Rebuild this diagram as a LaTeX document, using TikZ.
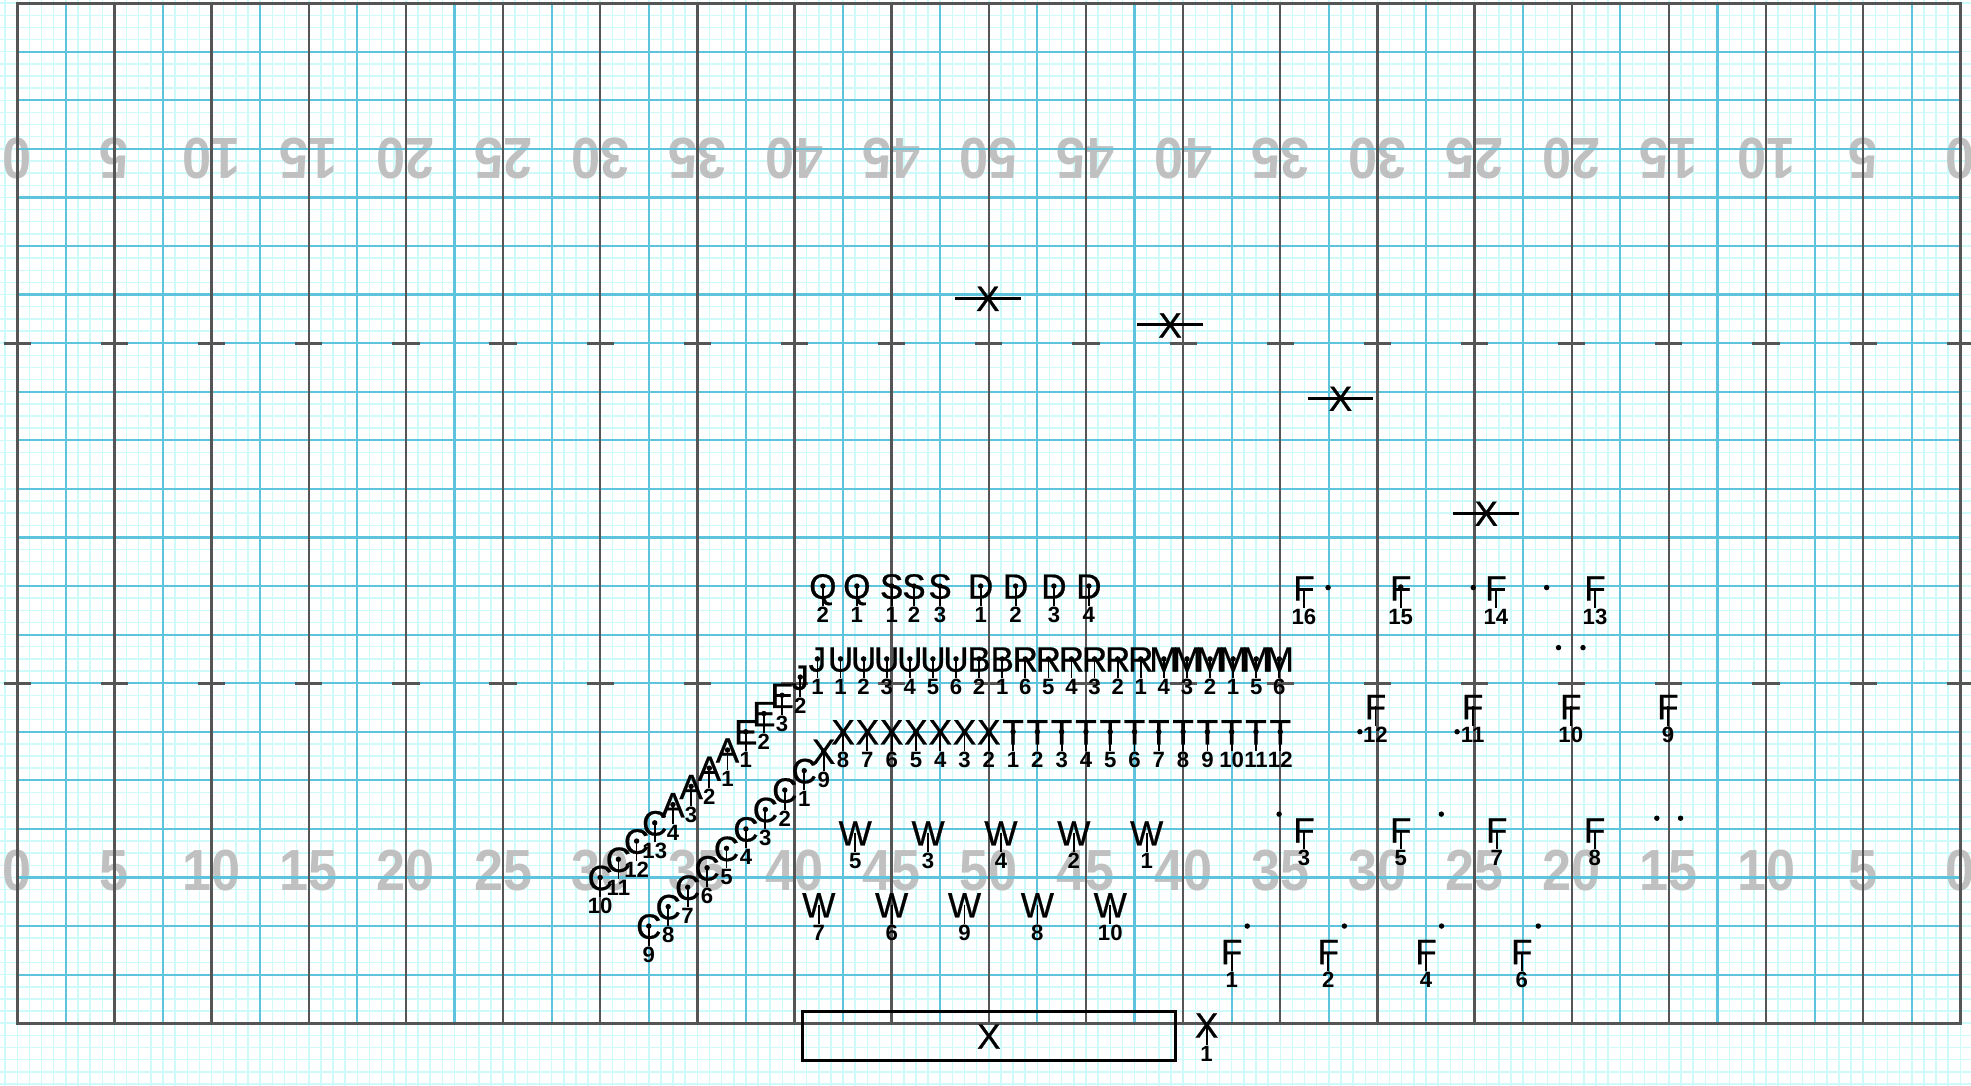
\documentclass[tikz,border=0pt]{standalone}
\usepackage{fontspec}
\setmainfont{Liberation Sans}
\newfontfamily\drillfont{Liberation Sans}[FakeBold=0.6]
\usepackage{tikz}
\usetikzlibrary{calc}
\definecolor{fieldfine}{HTML}{CFFAFA}
\definecolor{fieldblue}{HTML}{5EC3DC}
\definecolor{fielddark}{HTML}{555555}
\definecolor{yardgray}{HTML}{C0C0C0}
\tikzset{
  finegrid/.style={draw=fieldfine, line width=0.15mm},
  majorgrid/.style={draw=fieldblue, line width=0.22mm},
  yardline/.style={draw=fielddark, line width=0.24mm},
  hashmark/.style={draw=fielddark, line width=0.3mm},
  fieldedge/.style={draw=fielddark, line width=0.3mm},
  yardnum/.style={
    font=\fontsize{16.5}{16.5}\selectfont\bfseries, text=yardgray,
    inner sep=0pt, text height=11.8pt, text depth=0pt, xscale=0.9
  },
  glyph/.style={
    font=\drillfont\fontsize{10}{10}\selectfont, inner sep=0pt,
    text height=7.2pt, text depth=0pt
  },
  numlbl/.style={
    font=\fontsize{6.3}{6.3}\selectfont\bfseries, inner sep=0pt,
    text height=4.5pt, text depth=0pt
  },
  stem/.style={line width=0.5pt},
  xbar/.style={line width=0.85pt},
  podium/.style={
    draw, line width=0.3mm, minimum width=37.3mm, minimum height=4.9mm,
    inner sep=0pt, font=\drillfont\fontsize{10}{10}\selectfont,
    text height=7.2pt, text depth=0pt
  },
}
% performer: name, x, y, letter, number
\newcommand{\drillpt}[5]{%
  \coordinate (#1) at ({#2},{#3});
  \node[glyph] (#1-g) at (#1) {#4};
  \node[numlbl] (#1-n) at ($(#1)+(0,-1.45)$) {#5};
  \draw[stem] (#1) -- (#1-n.north);
  \fill (#1) circle (0.14);
}
% same without the spot
\newcommand{\drillsym}[5]{%
  \coordinate (#1) at ({#2},{#3});
  \node[glyph] (#1-g) at (#1) {#4};
  \node[numlbl] (#1-n) at ($(#1)+(0,-1.45)$) {#5};
  \draw[stem] (#1) -- (#1-n.north);
}

\begin{document}
\begin{tikzpicture}[x=1.943mm, y=1.943mm]
  \useasboundingbox (-0.89,-3.23) rectangle (100.55,52.66);
  \fill[white] (-0.89,-3.23) rectangle (100.55,52.66);

  % 8 to 5 step grid
  \draw[finegrid, step=0.625] (-0.89,-3.23) grid (100.55,52.66);

  % yard numbers
  \foreach \x/\lbl in {0/0,5/5,10/10,15/15,20/20,25/25,30/30,35/35,40/40,45/45,50/50,
                       55/45,60/40,65/35,70/30,75/25,80/20,85/15,90/10,95/5,100/0} {
    \node[yardnum, rotate=180] (top\x) at (\x,44.45) {\lbl};
    \node[yardnum] (bot\x) at (\x,7.9) {\lbl};
  }

  % field lines
  \draw[majorgrid, step=2.5] (0,0) grid (100,52.5);
  \foreach \x in {5,10,...,95}
    \draw[yardline] (\x,0) -- (\x,52.5);
  \foreach \x in {0,5,...,100} {
    \draw[hashmark] (\x-0.7,17.5) -- (\x+0.7,17.5);
    \draw[hashmark] (\x-0.7,35) -- (\x+0.7,35);
  }
  \draw[fieldedge] (0,0) rectangle (100,52.5);

  % front block
  \foreach \nm/\x/\l/\n in {q2/41.46/Q/2, q1/43.21/Q/1, s1/45.0/S/1, s2/46.15/S/2,
                            s3/47.49/S/3, d1/49.58/D/1, d2/51.38/D/2, d3/53.35/D/3, d4/55.15/D/4}
    {\drillpt{\nm}{\x}{22.5}{\l}{\n}}
  \foreach \l/\n [count=\i from 0] in {J/1,U/1,U/2,U/3,U/4,U/5,U/6,B/2,B/1,R/6,R/5,
                                       R/4,R/3,R/2,R/1,M/4,M/3,M/2,M/1,M/5,M/6}
    {\drillpt{mid\i}{41.18+1.1886*\i}{18.75}{\l}{\n}}
  \foreach \n in {1,...,12}
    {\drillpt{t\n}{51.25+1.25*(\n-1)}{15}{T}{\n}}
  \foreach \n in {2,...,8}
    {\drillpt{x\n}{50-1.25*(\n-2)}{15}{X}{\n}}
  \drillpt{x9}{41.5}{14}{X}{9}

  % diagonals
  \foreach \n in {1,...,9}
    {\drillpt{c\n}{41.5-\n}{14-\n}{C}{\n}}
  \foreach \l/\n [count=\i from 0] in {C/10,C/11,C/12,C/13,A/4,A/3,A/2,A/1,E/1,E/2,E/3,J/2}
    {\drillpt{up\i}{30+0.936*\i}{7.5+0.9375*\i}{\l}{\n}}

  % W rows
  \foreach \n [count=\i from 0] in {5,3,4,2,1}
    {\drillsym{wa\i}{43.125+3.75*\i}{9.8}{W}{\n}}
  \foreach \n [count=\i from 0] in {7,6,9,8,10}
    {\drillsym{wb\i}{41.25+3.75*\i}{6.1}{W}{\n}}

  % F block
  \foreach \nm/\x/\y/\n in {f16/66.22/22.4/16, f15/71.2/22.4/15, f14/76.1/22.4/14, f13/81.2/22.4/13,
                            f12/69.9/16.3/12, f11/74.9/16.3/11, f10/79.95/16.3/10, f9/84.95/16.3/9,
                            f3/66.22/9.95/3, f5/71.2/9.95/5, f7/76.14/9.95/7, f8/81.18/9.95/8,
                            f1/62.5/3.69/1, f2/67.47/3.69/2, f4/72.5/3.69/4, f6/77.43/3.69/6}
    {\drillsym{\nm}{\x}{\y}{F}{\n}}
  \foreach \x/\y in {67.46/22.42, 71.2/22.45, 74.93/22.42, 78.71/22.42, 79.32/19.33, 80.58/19.33,
                     69.1/15, 74.1/15, 64.94/10.76, 73.29/10.76, 84.38/10.55, 85.6/10.55,
                     63.3/5, 68.3/5, 73.3/5, 78.28/5}
    \fill (\x,\y) circle (0.14);

  % barred X marks
  \foreach \nm/\x/\y in {xa/49.95/37.31, xb/59.33/35.94, xc/68.1/32.17, xd/75.6/26.25} {
    \node[glyph] (\nm) at (\x,\y) {X};
    \draw[xbar] ($(\nm.center)+(-1.69,0)$) -- ($(\nm.center)+(1.69,0)$);
  }

  % podium
  \node[podium] (box) at (50,-0.66) {X};
  \drillsym{xone}{61.21}{-0.09}{X}{1}
\end{tikzpicture}
\end{document}
